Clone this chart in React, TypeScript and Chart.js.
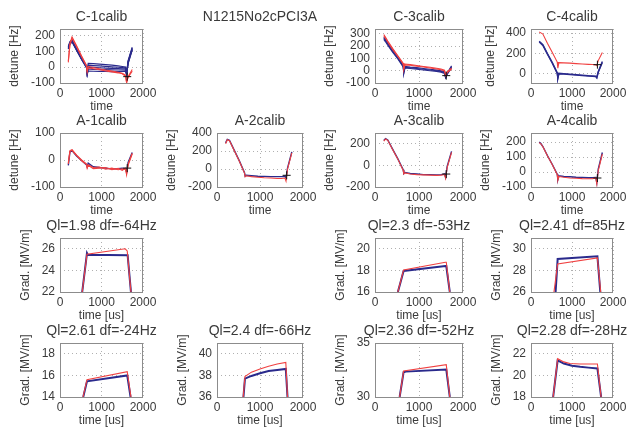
import React, { useEffect, useRef } from 'react';
import { Chart, registerables } from 'chart.js';
Chart.register(...registerables);

// ---------- data ----------
const TIME_TICKS = [0, 1000, 2000];
const T_DET = [200, 240, 290, 400, 520, 640, 655, 680, 800, 950, 1100, 1250, 1400, 1500, 1580, 1605, 1640, 1740];

const C1_BLUE = [
  [130, 160, 172, 115, 58, 5, -35, 24, 22, 19, 16, 12, 8, 4, 0, -40, 40, 125],
  [126, 156, 168, 112, 55, 2, -38, 12, 10, 8, 5, 2, -1, -3, -6, -42, 35, 120],
  [122, 152, 165, 110, 52, 0, -40, 0, -2, -4, -6, -8, -10, -11, -12, -45, 30, 116],
  [118, 148, 162, 108, 50, -2, -42, -12, -14, -15, -16, -17, -18, -18, -19, -45, 25, 112],
  [114, 145, 158, 105, 48, -5, -45, -25, -26, -27, -27, -28, -28, -27, -26, -48, 20, 108],
];
const C1_RED = [
  [30, 150, 190, 135, 70, 10, -30, 5, -2, -10, -18, -25, -32, -38, -50, -100, -60, -15],
  [40, 140, 182, 128, 65, 5, -25, -5, -10, -17, -24, -30, -36, -42, -58, -95, -65, -25],
];
const C3_BLUE = [
  [275, 255, 228, 168, 110, 45, -10, 35, 30, 25, 18, 12, 5, 0, -8, -50, -20, 40],
  [265, 245, 218, 160, 103, 38, -15, 28, 24, 18, 12, 6, 0, -5, -15, -55, -25, 32],
  [255, 236, 208, 152, 96, 30, -20, 22, 18, 12, 6, 0, -6, -12, -22, -55, -30, 25],
];
const C3_RED = [
  [295, 272, 242, 182, 122, 62, 20, 55, 50, 42, 35, 28, 20, 14, 5, -35, -10, 20],
  [285, 264, 234, 174, 116, 56, 10, 48, 44, 37, 30, 22, 14, 8, -2, -40, -15, 12],
];
const C4_BLUE = [
  [320, 305, 285, 200, 110, 10, -40, 5, 2, -3, -8, -13, -18, -20, -22, -35, 20, 120],
  [312, 298, 278, 194, 104, 4, -45, 0, -3, -8, -13, -18, -22, -25, -27, -40, 15, 112],
];
const C4_RED = [
  [410, 402, 390, 300, 210, 115, 55, 110, 108, 105, 100, 96, 93, 91, 88, 80, 130, 210],
];
const A1_BLUE = [
  [-20, 30, 35, 15, -2, -18, -25, -12, -25, -28, -30, -33, -32, -30, -32, -45, -10, 28],
];
const A1_RED = [
  [-10, 35, 38, 18, 0, -15, -30, -18, -28, -26, -34, -30, -36, -33, -35, -55, -15, 25],
  [-15, 32, 36, 16, -3, -17, -28, -20, -32, -30, -28, -36, -31, -38, -30, -50, -20, 22],
];
const A2_BLUE = [
  [290, 330, 320, 210, 90, -40, -80, -70, -75, -80, -82, -85, -85, -85, -80, -100, 10, 190],
];
const A2_RED = [
  [280, 325, 315, 205, 85, -45, -85, -75, -85, -92, -98, -100, -105, -105, -100, -135, 0, 180],
];
const A3_BLUE = [
  [230, 248, 235, 150, 60, -40, -75, -65, -75, -80, -85, -85, -88, -85, -80, -110, -10, 130],
];
const A3_RED = [
  [225, 245, 232, 148, 58, -45, -80, -70, -80, -85, -88, -90, -92, -90, -85, -120, -20, 120],
];
const A4_BLUE = [
  [200, 190, 170, 110, 50, -15, -50, -25, -30, -32, -35, -36, -38, -38, -36, -70, 20, 130],
];
const A4_RED = [
  [195, 188, 168, 108, 48, -18, -55, -30, -35, -40, -42, -44, -45, -44, -40, -80, 10, 120],
];
const DET_MARKS = {
  C1: [1620, -60], C3: [1620, -40], C4: [1620, 90],
  A1: [1620, -30], A2: [1620, -70], A3: [1620, -80], A4: [1620, -40],
};

// gradient traces: times and values
const G1_RED_T = [535, 650, 1570, 1620, 1710];
const G1_RED_V = [22, 25.5, 26.0, 25.8, 22];
const G1_BLUE_T = [535, 650, 670, 1630, 1710];
const G1_BLUE_V = [22, 25.6, 25.45, 25.4, 22];

const G2_RED_T = [520, 650, 1600, 1620, 1700];
const G2_RED_V = [16, 18.05, 18.75, 18.75, 16];
const G2_BLUE_T = [520, 650, 1600, 1620, 1700];
const G2_BLUE_V = [16, 17.95, 18.4, 18.4, 16];

const G3_RED_T = [560, 650, 1620, 1700];
const G3_RED_V = [26, 28.6, 29.15, 26];
const G3_BLUE_T = [600, 650, 1620, 1690];
const G3_BLUE_V = [26, 29.05, 29.3, 26];

const G4_RED_T = [555, 650, 1620, 1710];
const G4_RED_V = [14, 15.6, 16.35, 14];
const G4_BLUE_T = [560, 650, 1620, 1700];
const G4_BLUE_V = [14, 15.45, 16.0, 14];

const G5_RED_T = [610, 650, 800, 1000, 1200, 1400, 1600, 1640];
const G5_RED_V = [36, 37.9, 38.3, 38.6, 38.85, 39.05, 39.2, 36];
const G5_BLUE_T = [615, 650, 800, 1000, 1200, 1400, 1600, 1640];
const G5_BLUE_V = [36, 37.7, 37.95, 38.2, 38.4, 38.5, 38.6, 36];

const G6_RED_T = [560, 650, 1620, 1700];
const G6_RED_V = [30, 32.4, 33.0, 30];
const G6_BLUE_T = [560, 650, 700, 1620, 1700];
const G6_BLUE_V = [30, 32.3, 32.35, 32.55, 30];

const G7_RED_T = [540, 650, 800, 950, 1200, 1620, 1710];
const G7_RED_V = [18, 21.55, 21.25, 21.1, 21.05, 21.05, 18];
const G7_BLUE_T = [540, 650, 800, 1000, 1200, 1400, 1620, 1710];
const G7_BLUE_V = [18, 21.4, 21.1, 20.9, 20.8, 20.72, 20.65, 18];

// ---------- styling / layout ----------
const FONT = '"Liberation Sans", Arial, Helvetica, sans-serif';
const TEXT = '#3a3a3a';
const BLUE = '#2a2a8c';
const RED = '#f04040';
const FRAME = '#8c8c8c';
const GRID = '#b0b0b0';
const PL = 58, PR = 58, PT = 26, PB = 34;

const COL_L = [60, 217, 375, 531];
const COL_W = [83, 86, 88, 82];
const ROW_T = [29, 133, 238, 343];
const ROW_H = [54, 54, 54, 54];

type Trace = { t: number[]; v: number[] };
type Panel = {
  title: string; col: number; row: number; empty?: boolean;
  yMin: number; yMax: number; yTicks: number[];
  yLabel: string; xLabel: string; yLabelGap: number;
  blue: Trace[]; red: Trace[]; marks: number[][]; blueWidth: number;
};

const det = (rows: number[][]): Trace[] => rows.map((v) => ({ t: T_DET, v }));

const PANELS: Panel[] = [
  { title: 'C-1calib', col: 0, row: 0, yMin: -100, yMax: 240, yTicks: [-100, 0, 100, 200], yLabel: 'detune [Hz]', xLabel: 'time', yLabelGap: 45, blue: det(C1_BLUE), red: det(C1_RED), marks: [DET_MARKS.C1], blueWidth: 1.2 },
  { title: 'N1215No2cPCI3A', col: 1, row: 0, empty: true, yMin: 0, yMax: 1, yTicks: [], yLabel: '', xLabel: '', yLabelGap: 0, blue: [], red: [], marks: [], blueWidth: 1 },
  { title: 'C-3calib', col: 2, row: 0, yMin: -100, yMax: 340, yTicks: [-100, 0, 100, 200, 300], yLabel: 'detune [Hz]', xLabel: 'time', yLabelGap: 45, blue: det(C3_BLUE), red: det(C3_RED), marks: [DET_MARKS.C3], blueWidth: 1.2 },
  { title: 'C-4calib', col: 3, row: 0, yMin: -90, yMax: 440, yTicks: [0, 200, 400], yLabel: 'detune [Hz]', xLabel: 'time', yLabelGap: 40, blue: det(C4_BLUE), red: det(C4_RED), marks: [DET_MARKS.C4], blueWidth: 1.4 },
  { title: 'A-1calib', col: 0, row: 1, yMin: -100, yMax: 100, yTicks: [-100, 0, 100], yLabel: 'detune [Hz]', xLabel: 'time', yLabelGap: 45, blue: det(A1_BLUE), red: det(A1_RED), marks: [DET_MARKS.A1], blueWidth: 1.4 },
  { title: 'A-2calib', col: 1, row: 1, yMin: -200, yMax: 400, yTicks: [-200, 0, 200, 400], yLabel: 'detune [Hz]', xLabel: 'time', yLabelGap: 45, blue: det(A2_BLUE), red: det(A2_RED), marks: [DET_MARKS.A2], blueWidth: 1.4 },
  { title: 'A-3calib', col: 2, row: 1, yMin: -200, yMax: 300, yTicks: [-200, 0, 200], yLabel: 'detune [Hz]', xLabel: 'time', yLabelGap: 45, blue: det(A3_BLUE), red: det(A3_RED), marks: [DET_MARKS.A3], blueWidth: 1.4 },
  { title: 'A-4calib', col: 3, row: 1, yMin: -100, yMax: 260, yTicks: [-100, 0, 100, 200], yLabel: 'detune [Hz]', xLabel: 'time', yLabelGap: 45, blue: det(A4_BLUE), red: det(A4_RED), marks: [DET_MARKS.A4], blueWidth: 1.4 },
  { title: 'Ql=1.98 df=-64Hz', col: 0, row: 2, yMin: 22, yMax: 27, yTicks: [22, 24, 26], yLabel: 'Grad. [MV/m]', xLabel: 'time [us]', yLabelGap: 34, blue: [{ t: G1_BLUE_T, v: G1_BLUE_V }], red: [{ t: G1_RED_T, v: G1_RED_V }], marks: [], blueWidth: 2 },
  { title: 'Ql=2.3 df=-53Hz', col: 2, row: 2, yMin: 16, yMax: 21, yTicks: [16, 18, 20], yLabel: 'Grad. [MV/m]', xLabel: 'time [us]', yLabelGap: 34, blue: [{ t: G2_BLUE_T, v: G2_BLUE_V }], red: [{ t: G2_RED_T, v: G2_RED_V }], marks: [], blueWidth: 2 },
  { title: 'Ql=2.41 df=85Hz', col: 3, row: 2, yMin: 26, yMax: 31, yTicks: [26, 28, 30], yLabel: 'Grad. [MV/m]', xLabel: 'time [us]', yLabelGap: 34, blue: [{ t: G3_BLUE_T, v: G3_BLUE_V }], red: [{ t: G3_RED_T, v: G3_RED_V }], marks: [], blueWidth: 2 },
  { title: 'Ql=2.61 df=-24Hz', col: 0, row: 3, yMin: 14, yMax: 19, yTicks: [14, 16, 18], yLabel: 'Grad. [MV/m]', xLabel: 'time [us]', yLabelGap: 34, blue: [{ t: G4_BLUE_T, v: G4_BLUE_V }], red: [{ t: G4_RED_T, v: G4_RED_V }], marks: [], blueWidth: 2 },
  { title: 'Ql=2.4 df=-66Hz', col: 1, row: 3, yMin: 36, yMax: 41, yTicks: [36, 38, 40], yLabel: 'Grad. [MV/m]', xLabel: 'time [us]', yLabelGap: 34, blue: [{ t: G5_BLUE_T, v: G5_BLUE_V }], red: [{ t: G5_RED_T, v: G5_RED_V }], marks: [], blueWidth: 2 },
  { title: 'Ql=2.36 df=-52Hz', col: 2, row: 3, yMin: 30, yMax: 35, yTicks: [30, 35], yLabel: 'Grad. [MV/m]', xLabel: 'time [us]', yLabelGap: 34, blue: [{ t: G6_BLUE_T, v: G6_BLUE_V }], red: [{ t: G6_RED_T, v: G6_RED_V }], marks: [], blueWidth: 2 },
  { title: 'Ql=2.28 df=-28Hz', col: 3, row: 3, yMin: 18, yMax: 23, yTicks: [18, 20, 22], yLabel: 'Grad. [MV/m]', xLabel: 'time [us]', yLabelGap: 34, blue: [{ t: G7_BLUE_T, v: G7_BLUE_V }], red: [{ t: G7_RED_T, v: G7_RED_V }], marks: [], blueWidth: 2 },
];

const framePlugin = {
  id: 'frameBox',
  afterDatasetsDraw(chart: any) {
    const { ctx, chartArea: a } = chart;
    ctx.save();
    ctx.strokeStyle = FRAME;
    ctx.lineWidth = 1;
    ctx.setLineDash([]);
    ctx.strokeRect(a.left + 0.5, a.top + 0.5, a.right - a.left - 1, a.bottom - a.top);
    ctx.restore();
  },
};

function buildConfig(p: Panel): any {
  const tickFont = { family: FONT, size: 12, lineHeight: 1.2 };
  const titleFont = { family: FONT, size: 14, weight: 'normal' as const, lineHeight: 1.2 };
  const datasets: any[] = [];
  p.marks.forEach((m) =>
    datasets.push({ data: [{ x: m[0], y: m[1] }], showLine: false, pointStyle: 'cross', pointRadius: 4, borderColor: '#111', backgroundColor: '#111', borderWidth: 1 })
  );
  p.red.forEach((tr) =>
    datasets.push({ data: tr.t.map((x, i) => ({ x, y: tr.v[i] })), borderColor: RED, borderWidth: 1.1, pointRadius: 0, tension: 0, fill: false })
  );
  p.blue.forEach((tr) =>
    datasets.push({ data: tr.t.map((x, i) => ({ x, y: tr.v[i] })), borderColor: BLUE, borderWidth: p.blueWidth, pointRadius: 0, tension: 0, fill: false })
  );
  const titlePadTop = PT - 12 - 8.4;
  const title = {
    display: true, text: p.title, color: TEXT, font: titleFont,
    padding: { top: titlePadTop, bottom: PT - 16.8 - titlePadTop },
  };
  const base = {
    responsive: false, animation: false, events: [],
    layout: { padding: { left: 0, right: 0, top: 0, bottom: 0 } },
    plugins: { legend: { display: false }, tooltip: { enabled: false }, title },
  };
  // invisible right-hand spacer axis keeps the plot box centred under its title
  const spacer = {
    type: 'linear', position: 'right', display: true,
    afterFit: (s: any) => { s.width = PR; },
    ticks: { display: false }, grid: { display: false, drawTicks: false }, border: { display: false },
  };
  if (p.empty) {
    return {
      type: 'line', data: { datasets: [] },
      options: { ...base, scales: { x: { type: 'linear', display: false }, y: { display: false } } },
    };
  }
  return {
    type: 'line',
    data: { datasets },
    options: {
      ...base,
      scales: {
        x: {
          type: 'linear', min: 0, max: 2000,
          afterBuildTicks: (s: any) => { s.ticks = TIME_TICKS.map((value) => ({ value })); },
          afterFit: (s: any) => { s.height = PB; },
          grid: { color: GRID, lineWidth: 1, drawTicks: false },
          border: { display: false, dash: [1, 3] },
          ticks: { padding: 3.5, color: TEXT, font: tickFont, maxRotation: 0, autoSkip: false, callback: (v: any) => String(v) },
          title: { display: true, text: p.xLabel, color: TEXT, font: tickFont, padding: { top: 0, bottom: PB - 24 - 7.2 } },
        },
        y: {
          type: 'linear', min: p.yMin, max: p.yMax,
          afterBuildTicks: (s: any) => { s.ticks = p.yTicks.map((value) => ({ value })); },
          afterFit: (s: any) => { s.width = PL; },
          grid: { color: GRID, lineWidth: 1, drawTicks: false },
          border: { display: false, dash: [1, 3] },
          ticks: { padding: 5, color: TEXT, font: tickFont, autoSkip: false, callback: (v: any) => String(v) },
          title: { display: true, text: p.yLabel, color: TEXT, font: tickFont, padding: { top: PL - p.yLabelGap - 7.2, bottom: 0 } },
        },
        yr: spacer,
      },
    },
    plugins: [framePlugin],
  };
}

function PanelCanvas({ p }: { p: Panel }) {
  const ref = useRef<HTMLCanvasElement | null>(null);
  const w = COL_W[p.col] + PL + PR;
  const h = ROW_H[p.row] + PT + PB;
  useEffect(() => {
    if (!ref.current) return;
    const chart = new Chart(ref.current, buildConfig(p));
    return () => chart.destroy();
  }, [p]);
  return (
    <canvas
      ref={ref}
      width={w}
      height={h}
      style={{ position: 'absolute', left: COL_L[p.col] - PL, top: ROW_T[p.row] - PT, width: w, height: h }}
    />
  );
}

export default function App() {
  return (
    <div style={{ position: 'absolute', left: 0, top: 0, width: 630, height: 427, background: '#ffffff', overflow: 'hidden' }}>
      {PANELS.map((p, i) => (
        <PanelCanvas key={i} p={p} />
      ))}
    </div>
  );
}
